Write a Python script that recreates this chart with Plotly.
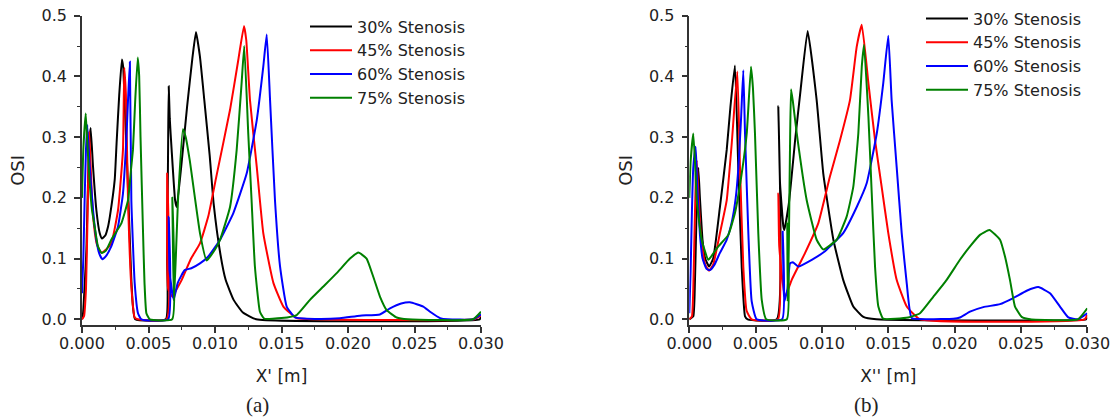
import plotly.graph_objects as go

# ---------------- data: panel (a) ----------------
a30_x = [0.0, 0.00008, 0.00033, 0.00045, 0.00058, 0.00065, 0.00083, 0.00108, 0.00133, 0.0015, 0.00175, 0.00196, 0.0021, 0.00246, 0.0026, 0.0028, 0.0030, 0.0031, 0.0032, 0.0034, 0.00358, 0.0037, 0.00383, 0.0040, 0.0063, 0.0064, 0.00648, 0.00652, 0.0066, 0.00674, 0.0070, 0.00712, 0.0075, 0.0079, 0.0083, 0.00857, 0.00887, 0.0092, 0.0096, 0.0099, 0.0104, 0.0108, 0.0114, 0.0121, 0.0131, 0.0299, 0.0300]
a30_y = [0.0, 0.01, 0.114, 0.224, 0.30, 0.315, 0.251, 0.18, 0.142, 0.133, 0.138, 0.153, 0.17, 0.23, 0.29, 0.37, 0.428, 0.415, 0.361, 0.25, 0.142, 0.07, 0.021, 0.0, 0.0, 0.1, 0.3, 0.384, 0.33, 0.279, 0.196, 0.185, 0.26, 0.35, 0.43, 0.473, 0.432, 0.36, 0.27, 0.19, 0.108, 0.065, 0.032, 0.011, 0.0, 0.0, 0.004]

a45_x = [0.0, 0.00015, 0.0003, 0.0004, 0.00048, 0.00053, 0.0006, 0.00075, 0.0009, 0.0011, 0.00135, 0.0015, 0.0017, 0.0022, 0.00271, 0.00308, 0.00318, 0.0033, 0.00346, 0.00371, 0.00396, 0.0042, 0.00636, 0.0064, 0.00648, 0.0068, 0.0070, 0.0075, 0.0082, 0.00887, 0.0095, 0.0101, 0.01113, 0.01175, 0.01218, 0.01235, 0.01263, 0.01314, 0.01363, 0.01439, 0.01514, 0.01614, 0.0175, 0.0295, 0.0300]
a45_y = [0.0, 0.005, 0.05, 0.15, 0.25, 0.309, 0.28, 0.2, 0.155, 0.125, 0.112, 0.11, 0.113, 0.125, 0.18, 0.279, 0.414, 0.37, 0.196, 0.054, 0.003, 0.0, 0.0, 0.24, 0.05, 0.037, 0.045, 0.065, 0.100, 0.125, 0.17, 0.235, 0.345, 0.427, 0.483, 0.46, 0.361, 0.251, 0.142, 0.06, 0.021, 0.002, 0.0, 0.0, 0.006]

a60_x = [0.0, 0.0001, 0.0002, 0.0003, 0.0004, 0.00058, 0.00083, 0.00108, 0.0013, 0.00153, 0.0018, 0.0022, 0.00271, 0.00308, 0.00333, 0.00346, 0.0036, 0.00371, 0.00396, 0.00421, 0.00446, 0.00648, 0.00652, 0.00658, 0.00689, 0.0072, 0.00772, 0.00822, 0.00887, 0.00948, 0.01038, 0.01138, 0.01238, 0.01314, 0.01363, 0.01389, 0.01414, 0.01451, 0.01489, 0.01539, 0.01602, 0.0175, 0.0194, 0.0209, 0.0224, 0.02316, 0.0240, 0.02466, 0.02566, 0.0262, 0.02692, 0.0275, 0.0294, 0.0300]
a60_y = [0.043, 0.1, 0.2, 0.28, 0.32, 0.251, 0.18, 0.131, 0.108, 0.099, 0.104, 0.12, 0.153, 0.207, 0.295, 0.361, 0.424, 0.196, 0.06, 0.01, 0.0, 0.0, 0.169, 0.08, 0.032, 0.06, 0.081, 0.084, 0.092, 0.103, 0.131, 0.175, 0.24, 0.328, 0.416, 0.469, 0.361, 0.196, 0.087, 0.021, 0.003, 0.0005, 0.0016, 0.006, 0.008, 0.018, 0.026, 0.028, 0.021, 0.012, 0.002, 0.0, 0.0, 0.008]

a75_x = [0.0, 0.0001, 0.00028, 0.0004, 0.00058, 0.00075, 0.00095, 0.0012, 0.00148, 0.0018, 0.0022, 0.0026, 0.00296, 0.00346, 0.0037, 0.00383, 0.0040, 0.00419, 0.0043, 0.0044, 0.00459, 0.0047, 0.00484, 0.0051, 0.00678, 0.00679, 0.00685, 0.00692, 0.00722, 0.00759, 0.0078, 0.0081, 0.00887, 0.00937, 0.0100, 0.01038, 0.01113, 0.01163, 0.0120, 0.0122, 0.0125, 0.01275, 0.0130, 0.01338, 0.0137, 0.0150, 0.01614, 0.01714, 0.01815, 0.01915, 0.02015, 0.02078, 0.0214, 0.0219, 0.02241, 0.02291, 0.02366, 0.0245, 0.0294, 0.0300]
a75_y = [0.2, 0.28, 0.339, 0.29, 0.224, 0.18, 0.153, 0.12, 0.109, 0.113, 0.131, 0.145, 0.158, 0.196, 0.25, 0.279, 0.36, 0.431, 0.40, 0.30, 0.142, 0.06, 0.01, 0.0, 0.0, 0.2, 0.1, 0.03, 0.196, 0.313, 0.3, 0.262, 0.142, 0.097, 0.115, 0.131, 0.185, 0.279, 0.389, 0.45, 0.306, 0.196, 0.087, 0.0125, 0.001, 0.002, 0.007, 0.032, 0.054, 0.076, 0.1, 0.110, 0.1, 0.07, 0.037, 0.015, 0.003, 0.0, 0.0, 0.0125]

# ---------------- data: panel (b) ----------------
b30_x = [0.0, 0.0003, 0.0004, 0.00052, 0.0006, 0.00068, 0.0008, 0.001, 0.0012, 0.00149, 0.0018, 0.00231, 0.00282, 0.0031, 0.00344, 0.00369, 0.00395, 0.0042, 0.0044, 0.0066, 0.00671, 0.00684, 0.00709, 0.00716, 0.0075, 0.0080, 0.0084, 0.00892, 0.0096, 0.0101, 0.01086, 0.0116, 0.01236, 0.01312, 0.0141, 0.0299, 0.0300]
b30_y = [0.0, 0.005, 0.04, 0.15, 0.22, 0.249, 0.2, 0.13, 0.1, 0.087, 0.1, 0.185, 0.279, 0.35, 0.418, 0.251, 0.087, 0.005, 0.0, 0.0, 0.351, 0.224, 0.153, 0.147, 0.19, 0.30, 0.38, 0.475, 0.361, 0.24, 0.131, 0.065, 0.021, 0.004, 0.0, 0.0, 0.003]

b45_x = [0.0, 0.0002, 0.0003, 0.0004, 0.0005, 0.00056, 0.0007, 0.0009, 0.0012, 0.00149, 0.0018, 0.00231, 0.00282, 0.0032, 0.00362, 0.00382, 0.00407, 0.00432, 0.0047, 0.00668, 0.00671, 0.00678, 0.00721, 0.00772, 0.00872, 0.00972, 0.0106, 0.01136, 0.01211, 0.01262, 0.0130, 0.0135, 0.0140, 0.0145, 0.0150, 0.01563, 0.01639, 0.01739, 0.0298, 0.0300]
b45_y = [0.0, 0.005, 0.05, 0.15, 0.24, 0.262, 0.2, 0.13, 0.09, 0.08, 0.09, 0.142, 0.196, 0.29, 0.408, 0.251, 0.087, 0.014, 0.0, 0.0, 0.207, 0.12, 0.037, 0.065, 0.109, 0.158, 0.235, 0.295, 0.361, 0.449, 0.485, 0.389, 0.295, 0.218, 0.142, 0.065, 0.021, 0.0, 0.0, 0.007]

b60_x = [0.0, 0.0001, 0.0002, 0.0003, 0.00048, 0.0006, 0.0008, 0.001, 0.0013, 0.00156, 0.0019, 0.0023, 0.0028, 0.0032, 0.0035, 0.0037, 0.0039, 0.00407, 0.0042, 0.00445, 0.0047, 0.00508, 0.0070, 0.00704, 0.0071, 0.00716, 0.0074, 0.00759, 0.0078, 0.00822, 0.00923, 0.01023, 0.0106, 0.0116, 0.01262, 0.01337, 0.01413, 0.01462, 0.0150, 0.01525, 0.01563, 0.01601, 0.01639, 0.01676, 0.018, 0.0199, 0.0204, 0.02116, 0.02216, 0.02342, 0.02442, 0.02543, 0.02631, 0.02719, 0.02794, 0.02857, 0.0293, 0.0300]
b60_y = [0.01, 0.08, 0.18, 0.25, 0.284, 0.22, 0.14, 0.1, 0.083, 0.081, 0.09, 0.109, 0.13, 0.16, 0.2, 0.25, 0.33, 0.41, 0.306, 0.142, 0.03, 0.0, 0.0, 0.144, 0.06, 0.029, 0.05, 0.092, 0.094, 0.087, 0.098, 0.112, 0.12, 0.142, 0.185, 0.224, 0.306, 0.389, 0.467, 0.361, 0.251, 0.142, 0.059, 0.002, 0.0, 0.001, 0.003, 0.0125, 0.02, 0.025, 0.035, 0.047, 0.053, 0.043, 0.021, 0.003, 0.0, 0.01]

b75_x = [0.0, 0.0001, 0.0003, 0.00045, 0.00056, 0.00093, 0.00143, 0.0018, 0.00219, 0.00294, 0.00344, 0.00395, 0.00433, 0.00465, 0.0048, 0.00495, 0.0052, 0.00546, 0.0058, 0.00735, 0.00738, 0.00742, 0.0075, 0.0076, 0.00767, 0.0078, 0.0081, 0.00885, 0.0096, 0.0101, 0.01111, 0.01186, 0.01236, 0.01274, 0.0130, 0.01317, 0.0135, 0.01375, 0.0140, 0.01425, 0.01462, 0.0165, 0.01739, 0.01839, 0.0194, 0.0204, 0.02116, 0.02191, 0.02262, 0.02342, 0.0238, 0.02417, 0.02455, 0.02505, 0.0257, 0.0293, 0.0300]
b75_y = [0.2, 0.26, 0.306, 0.25, 0.196, 0.131, 0.098, 0.108, 0.12, 0.139, 0.175, 0.24, 0.306, 0.416, 0.38, 0.306, 0.142, 0.032, 0.0, 0.0, 0.16, 0.03, 0.12, 0.3, 0.379, 0.36, 0.306, 0.196, 0.131, 0.115, 0.131, 0.169, 0.218, 0.306, 0.416, 0.452, 0.334, 0.208, 0.087, 0.021, 0.001, 0.003, 0.01, 0.037, 0.065, 0.098, 0.12, 0.139, 0.147, 0.131, 0.103, 0.065, 0.021, 0.004, 0.0, 0.0, 0.018]

series_names = ["30% Stenosis", "45% Stenosis", "60% Stenosis", "75% Stenosis"]
series_colors = ["#000000", "#FF0000", "#0000FF", "#008000"]
x_ticks = [0.000, 0.005, 0.010, 0.015, 0.020, 0.025, 0.030]
y_ticks = [0.0, 0.1, 0.2, 0.3, 0.4, 0.5]

panel_a = [(a30_x, a30_y), (a45_x, a45_y), (a60_x, a60_y), (a75_x, a75_y)]
panel_b = [(b30_x, b30_y), (b45_x, b45_y), (b60_x, b60_y), (b75_x, b75_y)]

# body margin is removed by post_script, so the figure fills the window
W, H = 1117, 420

def fx(px):
    return px / W

def fy(py):
    return 1 - py / H

fig = go.Figure()

for (xs, ys), name, col in zip(panel_a, series_names, series_colors):
    fig.add_trace(go.Scatter(x=xs, y=ys, mode="lines", name=name,
                             line=dict(color=col, width=2, shape="spline", smoothing=0.4),
                             xaxis="x", yaxis="y", legend="legend"))
for (xs, ys), name, col in zip(panel_b, series_names, series_colors):
    fig.add_trace(go.Scatter(x=xs, y=ys, mode="lines", name=name,
                             line=dict(color=col, width=2, shape="spline", smoothing=0.4),
                             xaxis="x2", yaxis="y2", legend="legend2"))

axcol = "#333333"
tickfont = dict(family="DejaVu Sans", size=16, color="#222222")
titlefont = dict(family="DejaVu Sans", size=18, color="#222222")

def xax(domain, anchor, title):
    return dict(domain=domain, anchor=anchor, range=[0, 0.030], automargin=False,
                tickvals=x_ticks, tickformat=".3f", ticklabelstandoff=-3,
                ticklabeloverflow="allow",
                showline=True, linecolor=axcol, linewidth=1.5,
                ticks="outside", ticklen=6, tickwidth=1.5, tickcolor=axcol,
                minor=dict(dtick=0.0025, tick0=0, ticks="outside", ticklen=3,
                           tickwidth=1.2, tickcolor=axcol, showgrid=False),
                showgrid=False, zeroline=False, tickfont=tickfont,
                title=dict(text=title, font=dict(family="DejaVu Sans", size=17, color="#222222"), standoff=18))

def yax(domain, anchor):
    return dict(domain=domain, anchor=anchor, range=[-0.0094, 0.5], automargin=False,
                tickvals=y_ticks, tickformat=".1f", ticklabelstandoff=4,
                ticklabeloverflow="allow",
                showline=True, linecolor=axcol, linewidth=1.5,
                ticks="outside", ticklen=6, tickwidth=1.5, tickcolor=axcol,
                minor=dict(dtick=0.05, tick0=0, ticks="outside", ticklen=3,
                           tickwidth=1.2, tickcolor=axcol, showgrid=False),
                showgrid=False, zeroline=False, tickfont=tickfont,
                title=dict(text="OSI", font=titlefont, standoff=12))

ydom = [fy(325), fy(15.7)]
legfont = dict(family="DejaVu Sans", size=16, color="#222222")

fig.update_layout(
    width=W, height=H,
    margin=dict(l=0, r=0, t=0, b=0, autoexpand=False),
    paper_bgcolor="white", plot_bgcolor="white",
    xaxis=xax([fx(82), fx(481)], "y", "X' [m]"),
    yaxis=yax(ydom, "x"),
    xaxis2=xax([fx(689.3), fx(1087.3)], "y2", "X'' [m]"),
    yaxis2=yax(ydom, "x2"),
    legend=dict(x=fx(305), y=fy(9.5), xanchor="left", yanchor="top",
                bgcolor="rgba(0,0,0,0)", font=legfont, itemwidth=42,
                tracegroupgap=0),
    legend2=dict(x=fx(921), y=fy(1.5), xanchor="left", yanchor="top",
                 bgcolor="rgba(0,0,0,0)", font=legfont, itemwidth=42,
                 tracegroupgap=0),
    showlegend=True,
    annotations=[
        dict(text="(a)", x=fx(257), y=fy(405), xref="paper", yref="paper",
             showarrow=False, xanchor="center", yanchor="middle",
             font=dict(family="Liberation Serif", size=21, color="#222222")),
        dict(text="(b)", x=fx(866), y=fy(405), xref="paper", yref="paper",
             showarrow=False, xanchor="center", yanchor="middle",
             font=dict(family="Liberation Serif", size=21, color="#222222")),
    ],
)

fig.write_html("out.html",
               config={"displayModeBar": False},
               post_script="document.body.style.margin='0';document.body.style.overflow='hidden';")
